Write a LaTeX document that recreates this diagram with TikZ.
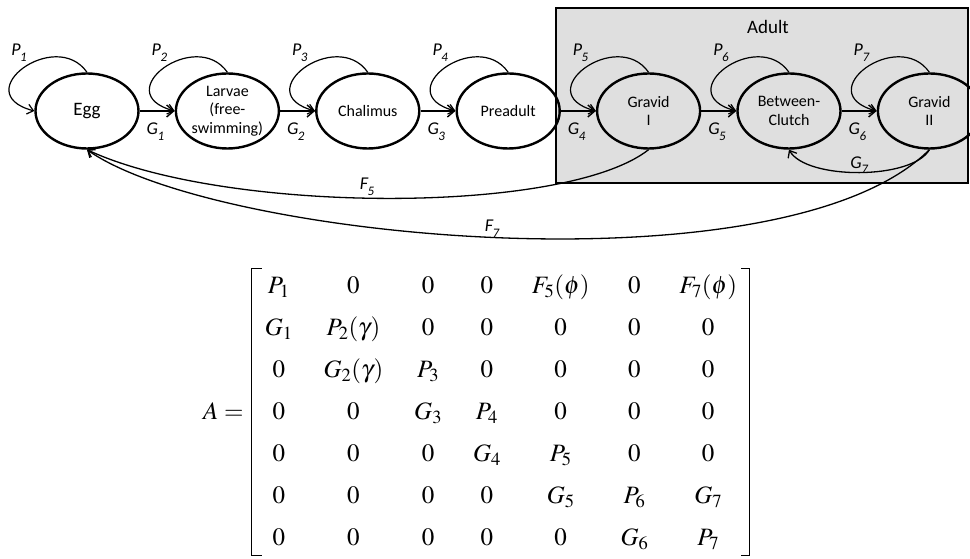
\documentclass[tikz,border=0pt]{standalone}
\usepackage{mathptmx}
\usepackage[no-math]{fontspec}
\setmainfont{Carlito}
\usetikzlibrary{positioning,matrix,shapes.geometric,arrows.meta}

\newcommand{\rate}[2]{\textit{#1\kern-0.5pt\raisebox{-0.32em}{\fontsize{13}{13}\selectfont #2}}}

\tikzstyle{stage}   = [ellipse, draw, line width=2.4pt, minimum width=103pt, minimum height=75pt, inner sep=0pt, align=center, font=\fontsize{16}{18.5}\selectfont]
\tikzstyle{growth}  = [line width=1.8pt, -{Straight Barb[length=7pt,width=12pt,line width=1.4pt]}]
\tikzstyle{ploop}   = [line width=1.2pt, -{Straight Barb[length=6pt,width=10pt]}, out=125, in=165, out distance=55pt, in distance=70pt]
\tikzstyle{fback}   = [line width=1.3pt, -{Straight Barb[length=6pt,width=10pt]}]
\tikzstyle{plabel}  = [inner sep=1pt, font=\fontsize{18}{18}\selectfont]
\tikzstyle{glabel}  = [plabel, pos=0.45, below=10pt]
\tikzstyle{ADULT_BOX} = [draw, line width=2.4pt, fill=gray!25]
\tikzstyle{mentry}  = [inner sep=0pt, text height=18pt, text depth=7pt, font=\fontsize{25}{30}\selectfont]
\tikzstyle{bracket} = [line width=1.3pt]

\begin{document}
\begin{tikzpicture}[x=1pt, y=1pt, node distance=35pt]
      \useasboundingbox (0,0) rectangle (970,559);

      %%%%%%%%%%%%%%%%%%%%%%%%%%%%%%%%%%%%%%%%%%%%%%%%%
      % ADULT STAGE
      %%%%%%%%%%%%%%%%%%%%%%%%%%%%%%%%%%%%%%%%%%%%%%%%%
      \draw[ADULT_BOX] (556,376) rectangle (968,551);
      \node[font=\fontsize{19}{22}\selectfont] (ADULT) at (768,532) {Adult};

      %%%%%%%%%%%%%%%%%%%%%%%%%%%%%%%%%%%%%%%%%%%%%%%%%
      % STAGES
      %%%%%%%%%%%%%%%%%%%%%%%%%%%%%%%%%%%%%%%%%%%%%%%%%
      \node[stage, font=\fontsize{19}{22}\selectfont] (EGG) at (87,448) {Egg};
      \node[stage, right=of EGG] (LAR) {Larvae\\(free-\\swimming)};
      \node[stage, right=of LAR] (CHA) {Chalimus};
      \node[stage, right=of CHA] (PRE) {Preadult};
      \node[stage, right=of PRE] (GR1) {Gravid\\I};
      \node[stage, right=of GR1] (BTW) {Between-\\Clutch};
      \node[stage, right=of BTW] (GR2) {Gravid\\II};

      %%%%%%%%%%%%%%%%%%%%%%%%%%%%%%%%%%%%%%%%%%%%%%%%%
      % STAYING AND GROWING
      %%%%%%%%%%%%%%%%%%%%%%%%%%%%%%%%%%%%%%%%%%%%%%%%%
      \foreach \s/\i in {EGG/1, LAR/2, CHA/3, PRE/4, GR1/5, BTW/6, GR2/7} {
        \path[ploop] (\s.north) edge (\s.west);
        \node[plabel] (P\i) at ([xshift=-68pt, yshift=58pt]\s.center) {\rate{P}{\i}};
      }
      \foreach \a/\b/\i in {EGG/LAR/1, LAR/CHA/2, CHA/PRE/3, PRE/GR1/4, GR1/BTW/5, BTW/GR2/6}
        \path[growth] (\a.east) edge node[glabel] {\rate{G}{\i}} (\b.west);

      %%%%%%%%%%%%%%%%%%%%%%%%%%%%%%%%%%%%%%%%%%%%%%%%%
      % FECUNDITY AND RETURN
      %%%%%%%%%%%%%%%%%%%%%%%%%%%%%%%%%%%%%%%%%%%%%%%%%
      \draw[fback] (GR2.south) to[out=-120, in=-60, distance=35pt]
        node[plabel, pos=0.5, above=-3pt] {\rate{G}{7}} (BTW.south);
      \draw[fback] (GR1.south) to[out=218, in=-25, out distance=107pt, in distance=151pt]
        node[plabel, pos=0.53, above=1pt] {\rate{F}{5}} (EGG.south);
      \draw[fback] (GR2.south) to[out=225, in=-35, out distance=204pt, in distance=158pt]
        node[plabel, pos=0.51, above=-2pt] {\rate{F}{7}} (EGG.south);

      %%%%%%%%%%%%%%%%%%%%%%%%%%%%%%%%%%%%%%%%%%%%%%%%%
      % PROJECTION MATRIX
      %%%%%%%%%%%%%%%%%%%%%%%%%%%%%%%%%%%%%%%%%%%%%%%%%
      \matrix (A) [matrix of math nodes, nodes={mentry}, column sep=31pt, row sep=17pt, inner sep=0pt] at (501,145) {
        P_1 & 0 & 0 & 0 & F_5(\phi) & 0 & F_7(\phi) \\
        G_1 & P_2(\gamma) & 0 & 0 & 0 & 0 & 0 \\
        0 & G_2(\gamma) & P_3 & 0 & 0 & 0 & 0 \\
        0 & 0 & G_3 & P_4 & 0 & 0 & 0 \\
        0 & 0 & 0 & G_4 & P_5 & 0 & 0 \\
        0 & 0 & 0 & 0 & G_5 & P_6 & G_7 \\
        0 & 0 & 0 & 0 & 0 & G_6 & P_7 \\
      };
      \draw[bracket] ([xshift=-3pt, yshift=7pt]A.north west) -- ++(-10pt,0) |- ([xshift=-3pt, yshift=-3pt]A.south west);
      \draw[bracket] ([xshift=4pt, yshift=7pt]A.north east) -- ++(8pt,0) |- ([xshift=4pt, yshift=-3pt]A.south east);
      \node[mentry, left=21pt of A.west] (AEQ) {$A=$};

\end{tikzpicture}
\end{document}
